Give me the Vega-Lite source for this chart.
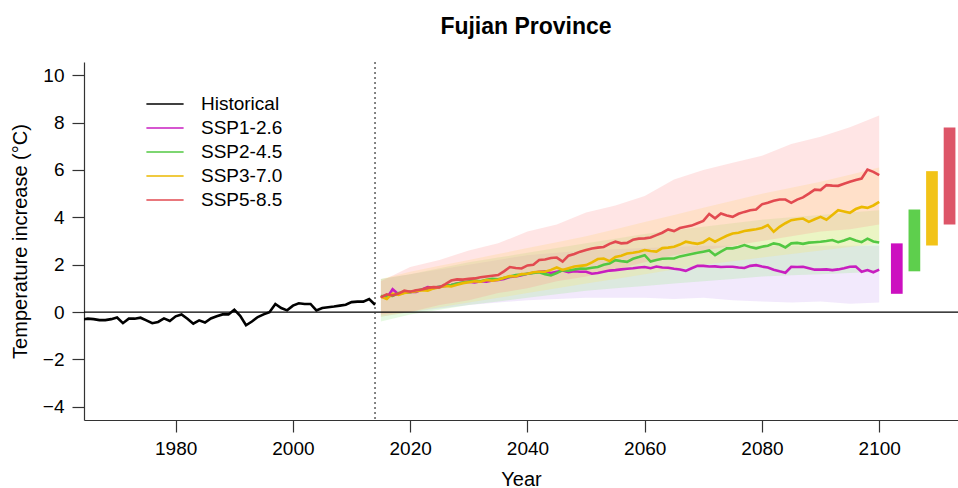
{
  "$schema": "https://vega.github.io/schema/vega-lite/v6.json",
  "width": 874,
  "height": 358,
  "autosize": "none",
  "padding": {"left": 84, "top": 62, "right": 0, "bottom": 68},
  "background": "white",
  "config": {
    "view": {"stroke": null},
    "font": "Liberation Sans",
    "axis": {"grid": false, "domainColor": "#333333", "tickColor": "#333333", "labelColor": "black", "titleColor": "black", "labelFont": "Liberation Sans", "titleFont": "Liberation Sans", "labelFontSize": 19, "titleFontSize": 20, "titleFontWeight": "normal", "tickSize": 12, "domainWidth": 1.2, "tickWidth": 1.2}
  },
  "title": {"text": "Fujian Province", "fontSize": 23, "fontWeight": "bold", "font": "Liberation Sans", "color": "black", "anchor": "middle", "offset": 22, "dx": 5},
  "datasets": {
    "lines": [
      {"series":"Historical","year":1964,"temp":-0.32},{"series":"Historical","year":1965,"temp":-0.28},{"series":"Historical","year":1966,"temp":-0.30},{"series":"Historical","year":1967,"temp":-0.34},{"series":"Historical","year":1968,"temp":-0.34},{"series":"Historical","year":1969,"temp":-0.30},{"series":"Historical","year":1970,"temp":-0.23},{"series":"Historical","year":1971,"temp":-0.47},{"series":"Historical","year":1972,"temp":-0.28},{"series":"Historical","year":1973,"temp":-0.28},{"series":"Historical","year":1974,"temp":-0.24},{"series":"Historical","year":1975,"temp":-0.35},{"series":"Historical","year":1976,"temp":-0.47},{"series":"Historical","year":1977,"temp":-0.42},{"series":"Historical","year":1978,"temp":-0.27},{"series":"Historical","year":1979,"temp":-0.38},{"series":"Historical","year":1980,"temp":-0.18},{"series":"Historical","year":1981,"temp":-0.10},{"series":"Historical","year":1982,"temp":-0.28},{"series":"Historical","year":1983,"temp":-0.49},{"series":"Historical","year":1984,"temp":-0.35},{"series":"Historical","year":1985,"temp":-0.44},{"series":"Historical","year":1986,"temp":-0.27},{"series":"Historical","year":1987,"temp":-0.18},{"series":"Historical","year":1988,"temp":-0.10},{"series":"Historical","year":1989,"temp":-0.10},{"series":"Historical","year":1990,"temp":0.10},{"series":"Historical","year":1991,"temp":-0.16},{"series":"Historical","year":1992,"temp":-0.56},{"series":"Historical","year":1993,"temp":-0.40},{"series":"Historical","year":1994,"temp":-0.21},{"series":"Historical","year":1995,"temp":-0.10},{"series":"Historical","year":1996,"temp":-0.01},{"series":"Historical","year":1997,"temp":0.34},{"series":"Historical","year":1998,"temp":0.17},{"series":"Historical","year":1999,"temp":0.07},{"series":"Historical","year":2000,"temp":0.27},{"series":"Historical","year":2001,"temp":0.37},{"series":"Historical","year":2002,"temp":0.34},{"series":"Historical","year":2003,"temp":0.34},{"series":"Historical","year":2004,"temp":0.07},{"series":"Historical","year":2005,"temp":0.17},{"series":"Historical","year":2006,"temp":0.20},{"series":"Historical","year":2007,"temp":0.23},{"series":"Historical","year":2008,"temp":0.27},{"series":"Historical","year":2009,"temp":0.31},{"series":"Historical","year":2010,"temp":0.42},{"series":"Historical","year":2011,"temp":0.44},{"series":"Historical","year":2012,"temp":0.44},{"series":"Historical","year":2013,"temp":0.55},{"series":"Historical","year":2014,"temp":0.31},

      {"series":"SSP1-2.6","year":2015,"temp":0.68},{"series":"SSP1-2.6","year":2016,"temp":0.58},{"series":"SSP1-2.6","year":2017,"temp":0.96},{"series":"SSP1-2.6","year":2018,"temp":0.75},{"series":"SSP1-2.6","year":2019,"temp":0.82},{"series":"SSP1-2.6","year":2020,"temp":0.86},{"series":"SSP1-2.6","year":2021,"temp":0.85},{"series":"SSP1-2.6","year":2022,"temp":0.95},{"series":"SSP1-2.6","year":2023,"temp":1.05},{"series":"SSP1-2.6","year":2024,"temp":1.02},{"series":"SSP1-2.6","year":2025,"temp":1.07},{"series":"SSP1-2.6","year":2026,"temp":1.10},{"series":"SSP1-2.6","year":2027,"temp":1.14},{"series":"SSP1-2.6","year":2028,"temp":1.20},{"series":"SSP1-2.6","year":2029,"temp":1.25},{"series":"SSP1-2.6","year":2030,"temp":1.28},{"series":"SSP1-2.6","year":2031,"temp":1.25},{"series":"SSP1-2.6","year":2032,"temp":1.30},{"series":"SSP1-2.6","year":2033,"temp":1.28},{"series":"SSP1-2.6","year":2034,"temp":1.33},{"series":"SSP1-2.6","year":2035,"temp":1.35},{"series":"SSP1-2.6","year":2036,"temp":1.40},{"series":"SSP1-2.6","year":2037,"temp":1.48},{"series":"SSP1-2.6","year":2038,"temp":1.50},{"series":"SSP1-2.6","year":2039,"temp":1.55},{"series":"SSP1-2.6","year":2040,"temp":1.62},{"series":"SSP1-2.6","year":2041,"temp":1.66},{"series":"SSP1-2.6","year":2042,"temp":1.70},{"series":"SSP1-2.6","year":2043,"temp":1.72},{"series":"SSP1-2.6","year":2044,"temp":1.65},{"series":"SSP1-2.6","year":2045,"temp":1.70},{"series":"SSP1-2.6","year":2046,"temp":1.75},{"series":"SSP1-2.6","year":2047,"temp":1.68},{"series":"SSP1-2.6","year":2048,"temp":1.72},{"series":"SSP1-2.6","year":2049,"temp":1.70},{"series":"SSP1-2.6","year":2050,"temp":1.70},{"series":"SSP1-2.6","year":2051,"temp":1.62},{"series":"SSP1-2.6","year":2052,"temp":1.65},{"series":"SSP1-2.6","year":2053,"temp":1.70},{"series":"SSP1-2.6","year":2054,"temp":1.75},{"series":"SSP1-2.6","year":2055,"temp":1.77},{"series":"SSP1-2.6","year":2056,"temp":1.80},{"series":"SSP1-2.6","year":2057,"temp":1.83},{"series":"SSP1-2.6","year":2058,"temp":1.85},{"series":"SSP1-2.6","year":2059,"temp":1.88},{"series":"SSP1-2.6","year":2060,"temp":1.90},{"series":"SSP1-2.6","year":2061,"temp":1.85},{"series":"SSP1-2.6","year":2062,"temp":1.92},{"series":"SSP1-2.6","year":2063,"temp":1.88},{"series":"SSP1-2.6","year":2064,"temp":1.87},{"series":"SSP1-2.6","year":2065,"temp":1.83},{"series":"SSP1-2.6","year":2066,"temp":1.80},{"series":"SSP1-2.6","year":2067,"temp":1.74},{"series":"SSP1-2.6","year":2068,"temp":1.85},{"series":"SSP1-2.6","year":2069,"temp":1.95},{"series":"SSP1-2.6","year":2070,"temp":1.95},{"series":"SSP1-2.6","year":2071,"temp":1.92},{"series":"SSP1-2.6","year":2072,"temp":1.93},{"series":"SSP1-2.6","year":2073,"temp":1.90},{"series":"SSP1-2.6","year":2074,"temp":1.91},{"series":"SSP1-2.6","year":2075,"temp":1.91},{"series":"SSP1-2.6","year":2076,"temp":1.88},{"series":"SSP1-2.6","year":2077,"temp":1.86},{"series":"SSP1-2.6","year":2078,"temp":1.95},{"series":"SSP1-2.6","year":2079,"temp":1.98},{"series":"SSP1-2.6","year":2080,"temp":1.92},{"series":"SSP1-2.6","year":2081,"temp":1.88},{"series":"SSP1-2.6","year":2082,"temp":1.79},{"series":"SSP1-2.6","year":2083,"temp":1.72},{"series":"SSP1-2.6","year":2084,"temp":1.66},{"series":"SSP1-2.6","year":2085,"temp":1.91},{"series":"SSP1-2.6","year":2086,"temp":1.90},{"series":"SSP1-2.6","year":2087,"temp":1.91},{"series":"SSP1-2.6","year":2088,"temp":1.85},{"series":"SSP1-2.6","year":2089,"temp":1.79},{"series":"SSP1-2.6","year":2090,"temp":1.79},{"series":"SSP1-2.6","year":2091,"temp":1.80},{"series":"SSP1-2.6","year":2092,"temp":1.77},{"series":"SSP1-2.6","year":2093,"temp":1.80},{"series":"SSP1-2.6","year":2094,"temp":1.85},{"series":"SSP1-2.6","year":2095,"temp":1.91},{"series":"SSP1-2.6","year":2096,"temp":1.92},{"series":"SSP1-2.6","year":2097,"temp":1.70},{"series":"SSP1-2.6","year":2098,"temp":1.77},{"series":"SSP1-2.6","year":2099,"temp":1.68},{"series":"SSP1-2.6","year":2100,"temp":1.79},

      {"series":"SSP2-4.5","year":2015,"temp":0.66},{"series":"SSP2-4.5","year":2016,"temp":0.70},{"series":"SSP2-4.5","year":2017,"temp":0.68},{"series":"SSP2-4.5","year":2018,"temp":0.80},{"series":"SSP2-4.5","year":2019,"temp":0.82},{"series":"SSP2-4.5","year":2020,"temp":0.84},{"series":"SSP2-4.5","year":2021,"temp":0.90},{"series":"SSP2-4.5","year":2022,"temp":0.95},{"series":"SSP2-4.5","year":2023,"temp":0.98},{"series":"SSP2-4.5","year":2024,"temp":1.02},{"series":"SSP2-4.5","year":2025,"temp":1.07},{"series":"SSP2-4.5","year":2026,"temp":1.12},{"series":"SSP2-4.5","year":2027,"temp":1.14},{"series":"SSP2-4.5","year":2028,"temp":1.20},{"series":"SSP2-4.5","year":2029,"temp":1.25},{"series":"SSP2-4.5","year":2030,"temp":1.29},{"series":"SSP2-4.5","year":2031,"temp":1.33},{"series":"SSP2-4.5","year":2032,"temp":1.30},{"series":"SSP2-4.5","year":2033,"temp":1.36},{"series":"SSP2-4.5","year":2034,"temp":1.40},{"series":"SSP2-4.5","year":2035,"temp":1.38},{"series":"SSP2-4.5","year":2036,"temp":1.44},{"series":"SSP2-4.5","year":2037,"temp":1.50},{"series":"SSP2-4.5","year":2038,"temp":1.56},{"series":"SSP2-4.5","year":2039,"temp":1.58},{"series":"SSP2-4.5","year":2040,"temp":1.62},{"series":"SSP2-4.5","year":2041,"temp":1.65},{"series":"SSP2-4.5","year":2042,"temp":1.68},{"series":"SSP2-4.5","year":2043,"temp":1.60},{"series":"SSP2-4.5","year":2044,"temp":1.55},{"series":"SSP2-4.5","year":2045,"temp":1.65},{"series":"SSP2-4.5","year":2046,"temp":1.77},{"series":"SSP2-4.5","year":2047,"temp":1.75},{"series":"SSP2-4.5","year":2048,"temp":1.80},{"series":"SSP2-4.5","year":2049,"temp":1.84},{"series":"SSP2-4.5","year":2050,"temp":1.83},{"series":"SSP2-4.5","year":2051,"temp":1.87},{"series":"SSP2-4.5","year":2052,"temp":1.90},{"series":"SSP2-4.5","year":2053,"temp":2.00},{"series":"SSP2-4.5","year":2054,"temp":2.05},{"series":"SSP2-4.5","year":2055,"temp":2.19},{"series":"SSP2-4.5","year":2056,"temp":2.15},{"series":"SSP2-4.5","year":2057,"temp":2.12},{"series":"SSP2-4.5","year":2058,"temp":2.25},{"series":"SSP2-4.5","year":2059,"temp":2.32},{"series":"SSP2-4.5","year":2060,"temp":2.40},{"series":"SSP2-4.5","year":2061,"temp":2.13},{"series":"SSP2-4.5","year":2062,"temp":2.20},{"series":"SSP2-4.5","year":2063,"temp":2.25},{"series":"SSP2-4.5","year":2064,"temp":2.26},{"series":"SSP2-4.5","year":2065,"temp":2.26},{"series":"SSP2-4.5","year":2066,"temp":2.35},{"series":"SSP2-4.5","year":2067,"temp":2.40},{"series":"SSP2-4.5","year":2068,"temp":2.45},{"series":"SSP2-4.5","year":2069,"temp":2.50},{"series":"SSP2-4.5","year":2070,"temp":2.55},{"series":"SSP2-4.5","year":2071,"temp":2.60},{"series":"SSP2-4.5","year":2072,"temp":2.40},{"series":"SSP2-4.5","year":2073,"temp":2.55},{"series":"SSP2-4.5","year":2074,"temp":2.69},{"series":"SSP2-4.5","year":2075,"temp":2.69},{"series":"SSP2-4.5","year":2076,"temp":2.75},{"series":"SSP2-4.5","year":2077,"temp":2.83},{"series":"SSP2-4.5","year":2078,"temp":2.75},{"series":"SSP2-4.5","year":2079,"temp":2.69},{"series":"SSP2-4.5","year":2080,"temp":2.76},{"series":"SSP2-4.5","year":2081,"temp":2.80},{"series":"SSP2-4.5","year":2082,"temp":2.90},{"series":"SSP2-4.5","year":2083,"temp":2.85},{"series":"SSP2-4.5","year":2084,"temp":2.73},{"series":"SSP2-4.5","year":2085,"temp":2.90},{"series":"SSP2-4.5","year":2086,"temp":2.92},{"series":"SSP2-4.5","year":2087,"temp":2.88},{"series":"SSP2-4.5","year":2088,"temp":2.93},{"series":"SSP2-4.5","year":2089,"temp":2.95},{"series":"SSP2-4.5","year":2090,"temp":2.97},{"series":"SSP2-4.5","year":2091,"temp":3.00},{"series":"SSP2-4.5","year":2092,"temp":3.04},{"series":"SSP2-4.5","year":2093,"temp":2.95},{"series":"SSP2-4.5","year":2094,"temp":3.02},{"series":"SSP2-4.5","year":2095,"temp":3.11},{"series":"SSP2-4.5","year":2096,"temp":3.02},{"series":"SSP2-4.5","year":2097,"temp":2.95},{"series":"SSP2-4.5","year":2098,"temp":3.10},{"series":"SSP2-4.5","year":2099,"temp":2.98},{"series":"SSP2-4.5","year":2100,"temp":2.94},

      {"series":"SSP3-7.0","year":2015,"temp":0.65},{"series":"SSP3-7.0","year":2016,"temp":0.55},{"series":"SSP3-7.0","year":2017,"temp":0.78},{"series":"SSP3-7.0","year":2018,"temp":0.72},{"series":"SSP3-7.0","year":2019,"temp":0.80},{"series":"SSP3-7.0","year":2020,"temp":0.85},{"series":"SSP3-7.0","year":2021,"temp":0.88},{"series":"SSP3-7.0","year":2022,"temp":0.92},{"series":"SSP3-7.0","year":2023,"temp":0.90},{"series":"SSP3-7.0","year":2024,"temp":1.00},{"series":"SSP3-7.0","year":2025,"temp":1.05},{"series":"SSP3-7.0","year":2026,"temp":1.10},{"series":"SSP3-7.0","year":2027,"temp":1.08},{"series":"SSP3-7.0","year":2028,"temp":1.15},{"series":"SSP3-7.0","year":2029,"temp":1.22},{"series":"SSP3-7.0","year":2030,"temp":1.26},{"series":"SSP3-7.0","year":2031,"temp":1.30},{"series":"SSP3-7.0","year":2032,"temp":1.28},{"series":"SSP3-7.0","year":2033,"temp":1.35},{"series":"SSP3-7.0","year":2034,"temp":1.32},{"series":"SSP3-7.0","year":2035,"temp":1.36},{"series":"SSP3-7.0","year":2036,"temp":1.45},{"series":"SSP3-7.0","year":2037,"temp":1.52},{"series":"SSP3-7.0","year":2038,"temp":1.50},{"series":"SSP3-7.0","year":2039,"temp":1.60},{"series":"SSP3-7.0","year":2040,"temp":1.62},{"series":"SSP3-7.0","year":2041,"temp":1.68},{"series":"SSP3-7.0","year":2042,"temp":1.70},{"series":"SSP3-7.0","year":2043,"temp":1.70},{"series":"SSP3-7.0","year":2044,"temp":1.78},{"series":"SSP3-7.0","year":2045,"temp":1.88},{"series":"SSP3-7.0","year":2046,"temp":1.78},{"series":"SSP3-7.0","year":2047,"temp":1.85},{"series":"SSP3-7.0","year":2048,"temp":1.92},{"series":"SSP3-7.0","year":2049,"temp":1.95},{"series":"SSP3-7.0","year":2050,"temp":1.98},{"series":"SSP3-7.0","year":2051,"temp":2.10},{"series":"SSP3-7.0","year":2052,"temp":2.24},{"series":"SSP3-7.0","year":2053,"temp":2.26},{"series":"SSP3-7.0","year":2054,"temp":2.15},{"series":"SSP3-7.0","year":2055,"temp":2.33},{"series":"SSP3-7.0","year":2056,"temp":2.38},{"series":"SSP3-7.0","year":2057,"temp":2.47},{"series":"SSP3-7.0","year":2058,"temp":2.50},{"series":"SSP3-7.0","year":2059,"temp":2.55},{"series":"SSP3-7.0","year":2060,"temp":2.62},{"series":"SSP3-7.0","year":2061,"temp":2.58},{"series":"SSP3-7.0","year":2062,"temp":2.55},{"series":"SSP3-7.0","year":2063,"temp":2.70},{"series":"SSP3-7.0","year":2064,"temp":2.72},{"series":"SSP3-7.0","year":2065,"temp":2.76},{"series":"SSP3-7.0","year":2066,"temp":2.85},{"series":"SSP3-7.0","year":2067,"temp":2.97},{"series":"SSP3-7.0","year":2068,"temp":2.92},{"series":"SSP3-7.0","year":2069,"temp":2.88},{"series":"SSP3-7.0","year":2070,"temp":2.95},{"series":"SSP3-7.0","year":2071,"temp":3.11},{"series":"SSP3-7.0","year":2072,"temp":2.97},{"series":"SSP3-7.0","year":2073,"temp":3.10},{"series":"SSP3-7.0","year":2074,"temp":3.22},{"series":"SSP3-7.0","year":2075,"temp":3.32},{"series":"SSP3-7.0","year":2076,"temp":3.35},{"series":"SSP3-7.0","year":2077,"temp":3.42},{"series":"SSP3-7.0","year":2078,"temp":3.46},{"series":"SSP3-7.0","year":2079,"temp":3.50},{"series":"SSP3-7.0","year":2080,"temp":3.55},{"series":"SSP3-7.0","year":2081,"temp":3.67},{"series":"SSP3-7.0","year":2082,"temp":3.39},{"series":"SSP3-7.0","year":2083,"temp":3.60},{"series":"SSP3-7.0","year":2084,"temp":3.75},{"series":"SSP3-7.0","year":2085,"temp":3.88},{"series":"SSP3-7.0","year":2086,"temp":3.92},{"series":"SSP3-7.0","year":2087,"temp":3.95},{"series":"SSP3-7.0","year":2088,"temp":3.81},{"series":"SSP3-7.0","year":2089,"temp":3.92},{"series":"SSP3-7.0","year":2090,"temp":4.02},{"series":"SSP3-7.0","year":2091,"temp":3.90},{"series":"SSP3-7.0","year":2092,"temp":4.10},{"series":"SSP3-7.0","year":2093,"temp":4.30},{"series":"SSP3-7.0","year":2094,"temp":4.25},{"series":"SSP3-7.0","year":2095,"temp":4.19},{"series":"SSP3-7.0","year":2096,"temp":4.35},{"series":"SSP3-7.0","year":2097,"temp":4.44},{"series":"SSP3-7.0","year":2098,"temp":4.40},{"series":"SSP3-7.0","year":2099,"temp":4.50},{"series":"SSP3-7.0","year":2100,"temp":4.65},

      {"series":"SSP5-8.5","year":2015,"temp":0.62},{"series":"SSP5-8.5","year":2016,"temp":0.75},{"series":"SSP5-8.5","year":2017,"temp":0.70},{"series":"SSP5-8.5","year":2018,"temp":0.78},{"series":"SSP5-8.5","year":2019,"temp":0.90},{"series":"SSP5-8.5","year":2020,"temp":0.86},{"series":"SSP5-8.5","year":2021,"temp":0.92},{"series":"SSP5-8.5","year":2022,"temp":0.95},{"series":"SSP5-8.5","year":2023,"temp":1.02},{"series":"SSP5-8.5","year":2024,"temp":1.05},{"series":"SSP5-8.5","year":2025,"temp":1.04},{"series":"SSP5-8.5","year":2026,"temp":1.18},{"series":"SSP5-8.5","year":2027,"temp":1.33},{"series":"SSP5-8.5","year":2028,"temp":1.38},{"series":"SSP5-8.5","year":2029,"temp":1.37},{"series":"SSP5-8.5","year":2030,"temp":1.40},{"series":"SSP5-8.5","year":2031,"temp":1.42},{"series":"SSP5-8.5","year":2032,"temp":1.47},{"series":"SSP5-8.5","year":2033,"temp":1.50},{"series":"SSP5-8.5","year":2034,"temp":1.53},{"series":"SSP5-8.5","year":2035,"temp":1.56},{"series":"SSP5-8.5","year":2036,"temp":1.72},{"series":"SSP5-8.5","year":2037,"temp":1.90},{"series":"SSP5-8.5","year":2038,"temp":1.86},{"series":"SSP5-8.5","year":2039,"temp":1.84},{"series":"SSP5-8.5","year":2040,"temp":1.97},{"series":"SSP5-8.5","year":2041,"temp":2.00},{"series":"SSP5-8.5","year":2042,"temp":2.20},{"series":"SSP5-8.5","year":2043,"temp":2.22},{"series":"SSP5-8.5","year":2044,"temp":2.28},{"series":"SSP5-8.5","year":2045,"temp":2.30},{"series":"SSP5-8.5","year":2046,"temp":2.13},{"series":"SSP5-8.5","year":2047,"temp":2.38},{"series":"SSP5-8.5","year":2048,"temp":2.45},{"series":"SSP5-8.5","year":2049,"temp":2.55},{"series":"SSP5-8.5","year":2050,"temp":2.62},{"series":"SSP5-8.5","year":2051,"temp":2.68},{"series":"SSP5-8.5","year":2052,"temp":2.72},{"series":"SSP5-8.5","year":2053,"temp":2.75},{"series":"SSP5-8.5","year":2054,"temp":2.88},{"series":"SSP5-8.5","year":2055,"temp":2.97},{"series":"SSP5-8.5","year":2056,"temp":2.90},{"series":"SSP5-8.5","year":2057,"temp":2.92},{"series":"SSP5-8.5","year":2058,"temp":3.05},{"series":"SSP5-8.5","year":2059,"temp":3.10},{"series":"SSP5-8.5","year":2060,"temp":3.11},{"series":"SSP5-8.5","year":2061,"temp":3.15},{"series":"SSP5-8.5","year":2062,"temp":3.25},{"series":"SSP5-8.5","year":2063,"temp":3.35},{"series":"SSP5-8.5","year":2064,"temp":3.49},{"series":"SSP5-8.5","year":2065,"temp":3.42},{"series":"SSP5-8.5","year":2066,"temp":3.55},{"series":"SSP5-8.5","year":2067,"temp":3.60},{"series":"SSP5-8.5","year":2068,"temp":3.65},{"series":"SSP5-8.5","year":2069,"temp":3.75},{"series":"SSP5-8.5","year":2070,"temp":3.85},{"series":"SSP5-8.5","year":2071,"temp":4.14},{"series":"SSP5-8.5","year":2072,"temp":3.96},{"series":"SSP5-8.5","year":2073,"temp":4.16},{"series":"SSP5-8.5","year":2074,"temp":4.08},{"series":"SSP5-8.5","year":2075,"temp":4.02},{"series":"SSP5-8.5","year":2076,"temp":4.15},{"series":"SSP5-8.5","year":2077,"temp":4.23},{"series":"SSP5-8.5","year":2078,"temp":4.30},{"series":"SSP5-8.5","year":2079,"temp":4.33},{"series":"SSP5-8.5","year":2080,"temp":4.55},{"series":"SSP5-8.5","year":2081,"temp":4.62},{"series":"SSP5-8.5","year":2082,"temp":4.70},{"series":"SSP5-8.5","year":2083,"temp":4.75},{"series":"SSP5-8.5","year":2084,"temp":4.75},{"series":"SSP5-8.5","year":2085,"temp":4.61},{"series":"SSP5-8.5","year":2086,"temp":4.75},{"series":"SSP5-8.5","year":2087,"temp":4.84},{"series":"SSP5-8.5","year":2088,"temp":5.00},{"series":"SSP5-8.5","year":2089,"temp":5.17},{"series":"SSP5-8.5","year":2090,"temp":5.15},{"series":"SSP5-8.5","year":2091,"temp":5.36},{"series":"SSP5-8.5","year":2092,"temp":5.34},{"series":"SSP5-8.5","year":2093,"temp":5.33},{"series":"SSP5-8.5","year":2094,"temp":5.42},{"series":"SSP5-8.5","year":2095,"temp":5.50},{"series":"SSP5-8.5","year":2096,"temp":5.58},{"series":"SSP5-8.5","year":2097,"temp":5.64},{"series":"SSP5-8.5","year":2098,"temp":6.02},{"series":"SSP5-8.5","year":2099,"temp":5.92},{"series":"SSP5-8.5","year":2100,"temp":5.78}
    ],
    "bands": [
      {"scenario":"SSP1-2.6","year":2015,"lo":-0.2,"hi":1.4},{"scenario":"SSP1-2.6","year":2020,"lo":0.0,"hi":1.6},{"scenario":"SSP1-2.6","year":2025,"lo":0.15,"hi":1.8},{"scenario":"SSP1-2.6","year":2030,"lo":0.3,"hi":2.0},{"scenario":"SSP1-2.6","year":2035,"lo":0.4,"hi":2.2},{"scenario":"SSP1-2.6","year":2040,"lo":0.5,"hi":2.4},{"scenario":"SSP1-2.6","year":2045,"lo":0.55,"hi":2.5},{"scenario":"SSP1-2.6","year":2050,"lo":0.6,"hi":2.6},{"scenario":"SSP1-2.6","year":2055,"lo":0.6,"hi":2.65},{"scenario":"SSP1-2.6","year":2060,"lo":0.6,"hi":2.7},{"scenario":"SSP1-2.6","year":2065,"lo":0.55,"hi":2.75},{"scenario":"SSP1-2.6","year":2070,"lo":0.6,"hi":2.8},{"scenario":"SSP1-2.6","year":2075,"lo":0.5,"hi":2.8},{"scenario":"SSP1-2.6","year":2080,"lo":0.45,"hi":2.8},{"scenario":"SSP1-2.6","year":2085,"lo":0.4,"hi":2.8},{"scenario":"SSP1-2.6","year":2090,"lo":0.45,"hi":2.8},{"scenario":"SSP1-2.6","year":2095,"lo":0.35,"hi":2.8},{"scenario":"SSP1-2.6","year":2100,"lo":0.4,"hi":2.8},
      {"scenario":"SSP2-4.5","year":2015,"lo":-0.4,"hi":1.4},{"scenario":"SSP2-4.5","year":2020,"lo":-0.1,"hi":1.6},{"scenario":"SSP2-4.5","year":2025,"lo":0.1,"hi":1.85},{"scenario":"SSP2-4.5","year":2030,"lo":0.3,"hi":2.1},{"scenario":"SSP2-4.5","year":2035,"lo":0.45,"hi":2.3},{"scenario":"SSP2-4.5","year":2040,"lo":0.6,"hi":2.5},{"scenario":"SSP2-4.5","year":2045,"lo":0.75,"hi":2.7},{"scenario":"SSP2-4.5","year":2050,"lo":0.9,"hi":2.9},{"scenario":"SSP2-4.5","year":2055,"lo":1.0,"hi":3.1},{"scenario":"SSP2-4.5","year":2060,"lo":1.1,"hi":3.3},{"scenario":"SSP2-4.5","year":2065,"lo":1.2,"hi":3.45},{"scenario":"SSP2-4.5","year":2070,"lo":1.3,"hi":3.6},{"scenario":"SSP2-4.5","year":2075,"lo":1.4,"hi":3.75},{"scenario":"SSP2-4.5","year":2080,"lo":1.5,"hi":3.9},{"scenario":"SSP2-4.5","year":2085,"lo":1.55,"hi":4.0},{"scenario":"SSP2-4.5","year":2090,"lo":1.6,"hi":4.1},{"scenario":"SSP2-4.5","year":2095,"lo":1.65,"hi":4.2},{"scenario":"SSP2-4.5","year":2100,"lo":1.7,"hi":4.3},
      {"scenario":"SSP3-7.0","year":2015,"lo":-0.2,"hi":1.4},{"scenario":"SSP3-7.0","year":2020,"lo":0.0,"hi":1.7},{"scenario":"SSP3-7.0","year":2025,"lo":0.2,"hi":1.95},{"scenario":"SSP3-7.0","year":2030,"lo":0.4,"hi":2.2},{"scenario":"SSP3-7.0","year":2035,"lo":0.6,"hi":2.45},{"scenario":"SSP3-7.0","year":2040,"lo":0.8,"hi":2.7},{"scenario":"SSP3-7.0","year":2045,"lo":1.0,"hi":2.95},{"scenario":"SSP3-7.0","year":2050,"lo":1.2,"hi":3.2},{"scenario":"SSP3-7.0","year":2055,"lo":1.4,"hi":3.5},{"scenario":"SSP3-7.0","year":2060,"lo":1.6,"hi":3.8},{"scenario":"SSP3-7.0","year":2065,"lo":1.8,"hi":4.1},{"scenario":"SSP3-7.0","year":2070,"lo":2.0,"hi":4.4},{"scenario":"SSP3-7.0","year":2075,"lo":2.15,"hi":4.7},{"scenario":"SSP3-7.0","year":2080,"lo":2.3,"hi":5.0},{"scenario":"SSP3-7.0","year":2085,"lo":2.45,"hi":5.25},{"scenario":"SSP3-7.0","year":2090,"lo":2.6,"hi":5.5},{"scenario":"SSP3-7.0","year":2095,"lo":2.75,"hi":5.8},{"scenario":"SSP3-7.0","year":2100,"lo":2.9,"hi":6.1},
      {"scenario":"SSP5-8.5","year":2015,"lo":-0.1,"hi":1.3},{"scenario":"SSP5-8.5","year":2020,"lo":0.0,"hi":1.9},{"scenario":"SSP5-8.5","year":2025,"lo":0.3,"hi":2.2},{"scenario":"SSP5-8.5","year":2030,"lo":0.5,"hi":2.6},{"scenario":"SSP5-8.5","year":2035,"lo":0.8,"hi":2.9},{"scenario":"SSP5-8.5","year":2040,"lo":1.0,"hi":3.4},{"scenario":"SSP5-8.5","year":2045,"lo":1.3,"hi":3.7},{"scenario":"SSP5-8.5","year":2050,"lo":1.5,"hi":4.2},{"scenario":"SSP5-8.5","year":2055,"lo":1.8,"hi":4.5},{"scenario":"SSP5-8.5","year":2060,"lo":2.1,"hi":4.9},{"scenario":"SSP5-8.5","year":2065,"lo":2.4,"hi":5.6},{"scenario":"SSP5-8.5","year":2070,"lo":2.6,"hi":6.0},{"scenario":"SSP5-8.5","year":2075,"lo":2.8,"hi":6.3},{"scenario":"SSP5-8.5","year":2080,"lo":3.0,"hi":6.6},{"scenario":"SSP5-8.5","year":2085,"lo":3.2,"hi":7.1},{"scenario":"SSP5-8.5","year":2090,"lo":3.4,"hi":7.4},{"scenario":"SSP5-8.5","year":2095,"lo":3.5,"hi":7.8},{"scenario":"SSP5-8.5","year":2100,"lo":3.7,"hi":8.3}
    ],
    "bars": [
      {"scenario":"SSP1-2.6","start":2102,"end":2104,"lo":0.77,"hi":2.90},
      {"scenario":"SSP2-4.5","start":2105,"end":2107,"lo":1.72,"hi":4.33},
      {"scenario":"SSP3-7.0","start":2108,"end":2110,"lo":2.81,"hi":5.95},
      {"scenario":"SSP5-8.5","start":2111,"end":2113,"lo":3.70,"hi":7.79}
    ],
    "refs": [{"year":2014,"zero":0}]
  },
  "layer": [
    {
      "data": {"name": "bands"},
      "mark": {"type": "area", "opacity": 0.22, "clip": true},
      "encoding": {
        "x": {"field": "year", "type": "quantitative", "scale": {"domain": [1964.36, 2113.44], "nice": false, "zero": false},
              "axis": {"values": [1980, 2000, 2020, 2040, 2060, 2080, 2100], "format": "d", "title": "Year", "labelPadding": 7, "titlePadding": 11}},
        "y": {"field": "lo", "type": "quantitative", "scale": {"domain": [-4.56, 10.56], "nice": false, "zero": false},
              "axis": {"values": [-4, -2, 0, 2, 4, 6, 8, 10], "title": "Temperature increase (°C)", "labelPadding": 8, "titlePadding": 12}},
        "y2": {"field": "hi"},
        "color": {"field": "scenario", "type": "nominal", "legend": null,
                  "scale": {"domain": ["SSP1-2.6", "SSP2-4.5", "SSP3-7.0", "SSP5-8.5"], "range": ["#c59cf0", "#8fe67a", "#ffe45c", "#ff8a8a"]}}
      }
    },
    {
      "data": {"name": "refs"},
      "mark": {"type": "rule", "color": "black", "strokeWidth": 1.2},
      "encoding": {"y": {"field": "zero", "type": "quantitative"}}
    },
    {
      "data": {"name": "refs"},
      "mark": {"type": "rule", "color": "#333333", "strokeWidth": 1.2, "strokeDash": [2, 3]},
      "encoding": {"x": {"field": "year", "type": "quantitative"}}
    },
    {
      "data": {"name": "lines"},
      "mark": {"type": "line", "strokeWidth": 2.6, "clip": true},
      "encoding": {
        "x": {"field": "year", "type": "quantitative"},
        "y": {"field": "temp", "type": "quantitative"},
        "color": {"field": "series", "type": "nominal",
                  "scale": {"domain": ["Historical", "SSP1-2.6", "SSP2-4.5", "SSP3-7.0", "SSP5-8.5"], "range": ["#000000", "#c81ec0", "#52c842", "#ebb900", "#e24a50"]},
                  "legend": {"title": null, "orient": "none", "legendX": 68, "legendY": 29, "symbolType": "M-1.55,0H1.55", "symbolSize": 576, "symbolStrokeWidth": 1.6, "labelFontSize": 19, "labelFont": "Liberation Sans", "labelColor": "black", "labelOffset": 23, "rowPadding": 1}}
      }
    },
    {
      "data": {"name": "bars"},
      "mark": {"type": "rect"},
      "encoding": {
        "x": {"field": "start", "type": "quantitative"},
        "x2": {"field": "end"},
        "y": {"field": "lo", "type": "quantitative"},
        "y2": {"field": "hi"},
        "color": {"field": "scenario", "type": "nominal", "legend": null,
                  "scale": {"domain": ["SSP1-2.6", "SSP2-4.5", "SSP3-7.0", "SSP5-8.5"], "range": ["#cc10c0", "#5ecf4d", "#f2c318", "#dd5568"]}}
      }
    }
  ],
  "resolve": {"scale": {"color": "independent"}}
}
